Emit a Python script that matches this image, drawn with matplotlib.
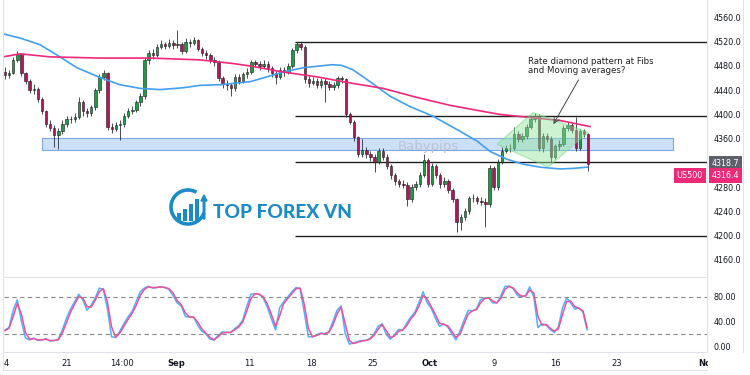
import numpy as np
import matplotlib.pyplot as plt
from matplotlib.patches import Polygon, Rectangle, Arc, FancyArrow

# US500, Aug 14 - Oct 19; x unit = trading days since Aug 14
first_open = 4470
closes = [4465, 4468, 4490, 4500, 4468, 4455, 4440, 4442, 4425, 4405,
          4385, 4378, 4366, 4372, 4385, 4392, 4393, 4396, 4420, 4405,
          4402, 4412, 4440, 4462, 4468, 4380, 4376, 4382, 4385, 4398,
          4405, 4408, 4420, 4430, 4490, 4502, 4498, 4512, 4516, 4513,
          4518, 4514, 4516, 4505, 4520, 4518, 4522, 4508, 4502, 4498,
          4490, 4486, 4460, 4450, 4448, 4443, 4462, 4455, 4466, 4470,
          4486, 4483, 4480, 4484, 4476, 4468, 4462, 4474, 4470, 4480,
          4506, 4516, 4512, 4458, 4452, 4455, 4448, 4455, 4450, 4445,
          4448, 4460, 4458, 4400, 4388, 4362, 4335, 4342, 4335, 4330,
          4322, 4340, 4330, 4315, 4300, 4290, 4286, 4284, 4260, 4280,
          4285, 4300, 4325, 4285, 4315, 4300, 4285, 4290, 4275, 4260,
          4222, 4230, 4240, 4262, 4262, 4258, 4256, 4252, 4312, 4280,
          4322, 4340, 4345, 4345, 4368, 4360, 4365, 4380, 4392, 4398,
          4345, 4365, 4360, 4330, 4348, 4352, 4378, 4382, 4375, 4345,
          4372, 4368, 4319]
highs = [4478, 4474, 4494, 4504, 4502, 4470, 4458, 4450, 4446, 4428,
         4408, 4390, 4382, 4378, 4390, 4398, 4398, 4402, 4428, 4423,
         4410, 4416, 4444, 4466, 4474, 4470, 4386, 4388, 4390, 4402,
         4410, 4414, 4424, 4436, 4494, 4506, 4508, 4516, 4522, 4520,
         4524, 4522, 4540, 4520, 4526, 4525, 4528, 4525, 4512, 4506,
         4502, 4494, 4490, 4464, 4456, 4452, 4466, 4466, 4470, 4476,
         4490, 4490, 4488, 4490, 4488, 4480, 4472, 4478, 4478, 4485,
         4510, 4520, 4520, 4514, 4464, 4462, 4460, 4460, 4460, 4455,
         4454, 4464, 4464, 4460, 4404, 4390, 4365, 4360, 4346, 4340,
         4334, 4345, 4344, 4334, 4318, 4304, 4294, 4292, 4288, 4285,
         4290, 4305, 4334, 4328, 4320, 4318, 4304, 4296, 4294, 4278,
         4262, 4236, 4246, 4266, 4268, 4266, 4264, 4262, 4316, 4315,
         4326, 4346, 4350, 4352, 4380, 4372, 4370, 4385, 4396, 4402,
         4400, 4370, 4370, 4364, 4352, 4358, 4382, 4388, 4386, 4395,
         4376, 4376, 4370]
lows = [4458, 4460, 4466, 4486, 4464, 4450, 4436, 4434, 4420, 4400,
        4380, 4372, 4346, 4343, 4368, 4380, 4386, 4388, 4392, 4398,
        4396, 4398, 4408, 4436, 4456, 4374, 4370, 4372, 4358, 4380,
        4394, 4400, 4404, 4414, 4426, 4484, 4492, 4494, 4508, 4508,
        4510, 4508, 4510, 4500, 4502, 4512, 4514, 4504, 4496, 4492,
        4485, 4480, 4455, 4444, 4440, 4430, 4438, 4450, 4452, 4460,
        4466, 4478, 4474, 4476, 4470, 4462, 4450, 4458, 4464, 4466,
        4476, 4502, 4506, 4452, 4446, 4448, 4444, 4444, 4420, 4440,
        4440, 4444, 4452, 4396, 4384, 4356, 4330, 4330, 4328, 4324,
        4305, 4318, 4325, 4310, 4294, 4284, 4280, 4278, 4249, 4256,
        4275, 4280, 4296, 4280, 4282, 4295, 4278, 4280, 4270, 4255,
        4206, 4210, 4226, 4236, 4255, 4252, 4250, 4215, 4248, 4276,
        4276, 4318, 4336, 4338, 4342, 4355, 4354, 4360, 4376, 4388,
        4340, 4338, 4354, 4320, 4326, 4342, 4348, 4372, 4370, 4340,
        4342, 4362, 4307]

# stochastic %K / %D, one value per candle
stoch_k = [26, 30, 58, 75, 40, 13, 10, 13, 9, 10,
           12, 8, 9, 11, 26, 45, 60, 72, 84, 75,
           58, 66, 78, 94, 92, 60, 15, 14, 24, 36,
           47, 56, 72, 88, 94, 97, 94, 95, 96, 95,
           92, 82, 70, 65, 48, 47, 47, 34, 24, 20,
           11, 10, 17, 23, 22, 22, 28, 33, 42, 65,
           84, 85, 84, 78, 63, 44, 26, 62, 72, 80,
           88, 95, 93, 55, 15, 15, 18, 21, 20, 23,
           40, 58, 65, 20, 3, 5, 7, 9, 9, 12,
           19, 32, 36, 19, 11, 18, 27, 25, 37, 47,
           55, 71, 88, 70, 61, 45, 32, 36, 31, 20,
           10, 24, 42, 58, 57, 60, 75, 78, 78, 70,
           70, 82, 97, 97, 93, 82, 80, 82, 96, 80,
           30, 36, 34, 27, 22, 31, 62, 78, 70, 60,
           62, 55, 26]
stoch_d = [25, 29, 48, 69, 52, 22, 11, 12, 10, 10,
           11, 9, 9, 10, 21, 38, 55, 68, 80, 78,
           64, 63, 74, 88, 93, 71, 31, 14, 21, 32,
           43, 53, 66, 82, 92, 96, 95, 95, 96, 95,
           93, 86, 74, 67, 54, 47, 47, 39, 28, 21,
           14, 10, 15, 21, 22, 22, 26, 31, 39, 57,
           77, 85, 84, 80, 68, 51, 32, 49, 69, 77,
           85, 93, 94, 68, 29, 15, 17, 20, 20, 22,
           34, 52, 63, 36, 9, 4, 6, 8, 9, 11,
           17, 27, 35, 25, 14, 16, 24, 26, 33, 44,
           52, 65, 82, 76, 64, 51, 37, 35, 33, 24,
           14, 19, 36, 52, 57, 59, 70, 77, 78, 73,
           70, 78, 92, 97, 94, 86, 81, 81, 91, 86,
           48, 34, 35, 29, 24, 28, 51, 72, 73, 64,
           61, 57, 30]

# moving averages (day, price)
ma_blue_x = [-0.3, 1.09, 2.73, 4.12, 5.75, 7.63, 9.27, 10.91, 12.55, 14.43,
             15.82, 17.45, 19.91, 21.3, 22.61, 24.25, 25.64, 26.6, 27.4, 28.3,
             29.73, 31.37, 33.0, 34.89, 36.85, 38.49, 39.55, 40.94, 42.25, 43.64,
             45.28, 46.34, 47.49]
ma_blue_y = [4533, 4526, 4515, 4498, 4477, 4461, 4449, 4443, 4441, 4444,
             4448, 4449, 4454, 4462, 4470, 4477, 4480, 4482, 4481, 4474,
             4454, 4430, 4413, 4397, 4375, 4356, 4339, 4326, 4318, 4313,
             4310, 4311, 4313]
ma_pink_x = [-0.3, 1.09, 3.54, 7.63, 11.73, 15.82, 18.52, 19.91, 22.61, 25.39,
             28.09, 30.79, 33.58, 36.28, 38.98, 40.37, 42.82, 45.28, 47.73]
ma_pink_y = [4495, 4500, 4495, 4493, 4493, 4490, 4484, 4480, 4470, 4462,
             4452, 4443, 4428, 4415, 4405, 4400, 4395, 4390, 4380]

fib_levels = [4520, 4398, 4322, 4200]
fib_start = 23.59
zone = (2.89, 54.5, 4340.6, 4361.5)
diamond_x = [40.12, 43.07, 47.57, 44.30]
diamond_y = [4350.8, 4403.3, 4370.5, 4313.0]
last_price = 4318.7
bid_price = 4316.4

tick_days = [0, 4.91, 9.41, 13.91, 19.91, 24.96, 29.98, 34.64, 39.96, 44.95, 49.97, 57.4]
tick_text = ['4', '21', '14:00', 'Sep', '11', '18', '25', 'Oct', '9', '16', '23', 'Nov']
price_ticks = [4160, 4200, 4240, 4280, 4360, 4400, 4440, 4480, 4520, 4560]
osc_ticks = [0, 40, 80]

W, H = 750, 375
TXT = '#131722'
BORDER = '#e0e3eb'


def px_axes(fig, x0, y0, x1, y1, **kw):
    return fig.add_axes([x0 / W, 1 - y1 / H, (x1 - x0) / W, (y1 - y0) / H], **kw)


def main():
    fig = plt.figure(figsize=(7.5, 3.75), dpi=100)
    ax = px_axes(fig, 4, 0, 707, 277)
    osc = px_axes(fig, 4, 278, 707, 352)
    xmin, xmax = -0.22, 57.3

    # candles
    c = np.array(closes, dtype=float)
    o = np.array([first_open] + closes[:-1], dtype=float)
    x = -0.14 + 0.336 * np.arange(len(c))
    up = c >= o
    ax.vlines(x, lows, highs, color='#2a2e39', lw=0.6, zorder=3)
    ax.bar(x[up], (c - o)[up], bottom=o[up], width=0.2, color='#1e9b45',
           edgecolor='#1a1a1a', lw=0.4, zorder=4)
    ax.bar(x[~up], (c - o)[~up], bottom=o[~up], width=0.2, color='#b3145a',
           edgecolor='#1a1a1a', lw=0.4, zorder=4)

    ax.plot(ma_blue_x, ma_blue_y, color='#42a0ef', lw=1.2, zorder=5)
    ax.plot(ma_pink_x, ma_pink_y, color='#f0287a', lw=1.2, zorder=5)

    ax.hlines(fib_levels, fib_start, xmax, color='#1f1f1f', lw=1.0, zorder=2)
    ax.add_patch(Rectangle((zone[0], zone[2]), zone[1] - zone[0], zone[3] - zone[2],
                           facecolor='#c4dbf7', edgecolor='#6a9de0', lw=0.8,
                           alpha=0.85, zorder=2))
    ax.text(34.52, 4347, 'Babypips', fontsize=9.5, color='#b9c3d3', ha='center',
            va='center', zorder=2.5)
    ax.add_patch(Polygon(list(zip(diamond_x, diamond_y)), closed=True,
                         facecolor='#8fe39c', edgecolor='#66d977', alpha=0.45,
                         lw=0.9, zorder=6))
    ax.annotate('', xy=(44.62, 4380), xytext=(46.9, 4461),
                arrowprops=dict(arrowstyle='->', color='#444444', lw=0.7), zorder=7)
    ax.text(42.66, 4480, 'Rate diamond pattern at Fibs\nand Moving averages?',
            fontsize=6.2, color='#222222', ha='left', va='center', linespacing=1.05,
            zorder=7)

    ax.set_xlim(xmin, xmax)
    ax.set_ylim(4131.8, 4588.8)
    ax.yaxis.tick_right()
    ax.set_yticks(price_ticks)
    ax.set_yticklabels(['%.1f' % t for t in price_ticks])
    ax.tick_params(axis='y', length=0, pad=5, labelsize=5.8, labelcolor=TXT)
    ax.set_xticks([])
    for s in ['top', 'left']:
        ax.spines[s].set_visible(False)
    for s in ['right', 'bottom']:
        ax.spines[s].set_color(BORDER)
        ax.spines[s].set_linewidth(0.8)

    # last price labels
    ax.annotate('%.1f' % last_price, xy=(1, last_price), xycoords=('axes fraction', 'data'),
                xytext=(3.5, 0), textcoords='offset points', ha='left', va='center',
                fontsize=5.8, color='white', annotation_clip=False,
                bbox=dict(boxstyle='square,pad=0.35', fc='#5d606b', ec='none'))
    ax.annotate('%.1f' % bid_price, xy=(1, last_price), xycoords=('axes fraction', 'data'),
                xytext=(3.5, -8.4), textcoords='offset points', ha='left', va='center',
                fontsize=5.8, color='white', annotation_clip=False,
                bbox=dict(boxstyle='square,pad=0.35', fc='#ec2a78', ec='none'))
    ax.annotate('US500', xy=(1, last_price), xycoords=('axes fraction', 'data'),
                xytext=(-3, -8.4), textcoords='offset points', ha='right', va='center',
                fontsize=5.8, color='white', annotation_clip=False,
                bbox=dict(boxstyle='square,pad=0.35', fc='#ec2a78', ec='none'))

    # stochastic pane
    osc.plot(x, stoch_k, color='#4db3ff', lw=1.1)
    osc.plot(x, stoch_d, color='#f0509a', lw=1.1)
    osc.axhline(80, color='#8a8a8a', lw=0.8, ls=(0, (4, 3)))
    osc.axhline(20, color='#8a8a8a', lw=0.8, ls=(0, (4, 3)))
    osc.set_xlim(xmin, xmax)
    osc.set_ylim(-9.7, 110.4)
    osc.yaxis.tick_right()
    osc.set_yticks(osc_ticks)
    osc.set_yticklabels(['%.2f' % t for t in osc_ticks])
    osc.tick_params(axis='y', length=0, pad=5, labelsize=5.8, labelcolor=TXT)
    osc.set_xticks(tick_days)
    osc.set_xticklabels(tick_text)
    osc.tick_params(axis='x', length=0, pad=5, labelsize=6, labelcolor=TXT)
    for lbl in osc.get_xticklabels():
        if lbl.get_text() in ('Sep', 'Oct', 'Nov'):
            lbl.set_fontweight('bold')
    osc.spines['top'].set_visible(False)
    osc.spines['left'].set_visible(False)
    for s in ['right', 'bottom']:
        osc.spines[s].set_color(BORDER)
        osc.spines[s].set_linewidth(0.8)

    # overlay: frame bits and watermark logo
    ov = fig.add_axes([0, 0, 1, 1], zorder=10)
    ov.set_xlim(0, W)
    ov.set_ylim(H, 0)
    ov.axis('off')
    ov.add_patch(Rectangle((707.5, 353), 43, 22, facecolor='white', edgecolor='none'))
    ov.plot([3, 3], [0, 370], color=BORDER, lw=0.8)
    ov.plot([3, 707], [370, 370], color=BORDER, lw=0.8)
    ov.plot([743, 743], [0, 352], color=BORDER, lw=0.8)

    logo = '#1b8bc6'
    ov.add_patch(Arc((188, 207), 34, 34, theta1=20, theta2=300, color=logo, lw=2.6))
    for bx, bh in zip([177, 183, 189, 195], [8, 12, 17, 22]):
        ov.add_patch(Rectangle((bx, 221 - bh), 4.2, bh, facecolor=logo, edgecolor='none'))
    ov.add_patch(FancyArrow(204, 219, 0, -24, width=1.6, head_width=6, head_length=6,
                            color=logo, length_includes_head=True))
    ov.text(213, 213, 'TOP FOREX VN', fontsize=13.8, fontweight='black', family='Lato',
            color=logo, ha='left', va='center')

    fig.savefig('out.png', dpi=100, facecolor='white')


if __name__ == '__main__':
    main()
